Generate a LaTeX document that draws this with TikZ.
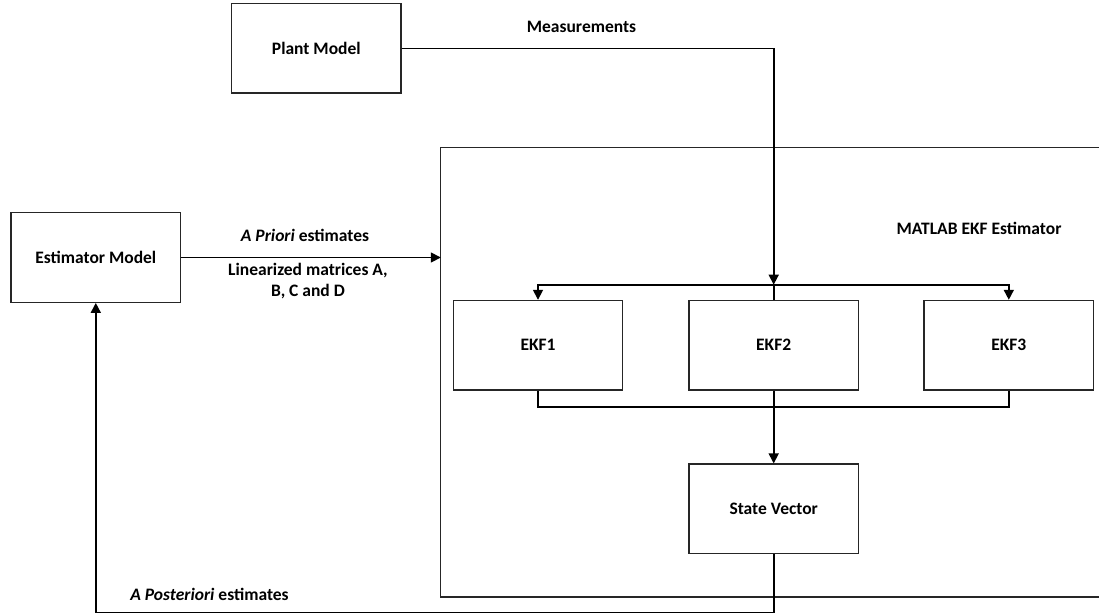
\documentclass[tikz,border=0pt]{standalone}
\usepackage{fontspec}
\setmainfont{Carlito}
\usetikzlibrary{arrows.meta}

\begin{document}
\begin{tikzpicture}[x=1pt,y=-1pt,
  font=\fontsize{17.5}{21}\selectfont\bfseries,
  blk/.style={draw=black!85, line width=1.3pt, minimum width=169.5pt, minimum height=89.5pt, inner sep=0pt},
  wire/.style={draw=black, line width=1.6pt},
  arr/.style={wire, -{Triangle[length=10pt,width=10pt]}},
  lbl/.style={inner sep=0pt, align=center}]

\useasboundingbox (0,0) rectangle (1099,614);

% outer blocks
\node[blk] (plant) at (316.3,48.3) {Plant Model};
\node[blk] (est)   at (95.8,257.5) {Estimator Model};

% estimator frame (open on the right)
\node[minimum width=658pt, minimum height=449pt, inner sep=0pt] (filt) at (770,372.2) {};
\draw[draw=black!85, line width=1.3pt] (filt.north east) -- (filt.north west) -- (filt.south west) -- (filt.south east);
\node[lbl] (title) at (979,228) {MATLAB EKF Estimator};

% filter bank
\node[blk] (ekf1) at (538,345.2)   {EKF1};
\node[blk] (ekf2) at (773.7,345.2) {EKF2};
\node[blk] (ekf3) at (1008.8,345.2){EKF3};
\node[blk] (sv)   at (773.7,508.8) {State Vector};

\coordinate (split) at (773.7,284.7);
\coordinate (merge) at (773.7,406.7);
\coordinate (fb)    at (773.7,612.3);

% measurements into the filter bank
\draw[arr] (plant.east) -| (split);
\draw[arr] (split) -| (ekf1.north);
\draw[arr] (split) -| (ekf3.north);
\draw[wire] (split) -- (ekf2.north);

% combine filter outputs
\draw[wire] (ekf1.south) |- (merge);
\draw[wire] (ekf3.south) |- (merge);
\draw[arr] (ekf2.south) -- (sv.north);

% estimator model to filters
\draw[arr] (est.east) -- (est.east -| filt.west);

% feedback
\draw[arr] (sv.south) -- (fb) -| (est.south);

% labels
\node[lbl] (meas) at (581.5,27) {Measurements};
\node[lbl] (prior) at (305,235) {\textit{A Priori} estimates};
\node[lbl] (lin) at (308,281) {Linearized matrices A,\\B, C and D};
\node[lbl] (post) at (209.5,594) {\textit{A Posteriori} estimates};
\end{tikzpicture}
\end{document}
